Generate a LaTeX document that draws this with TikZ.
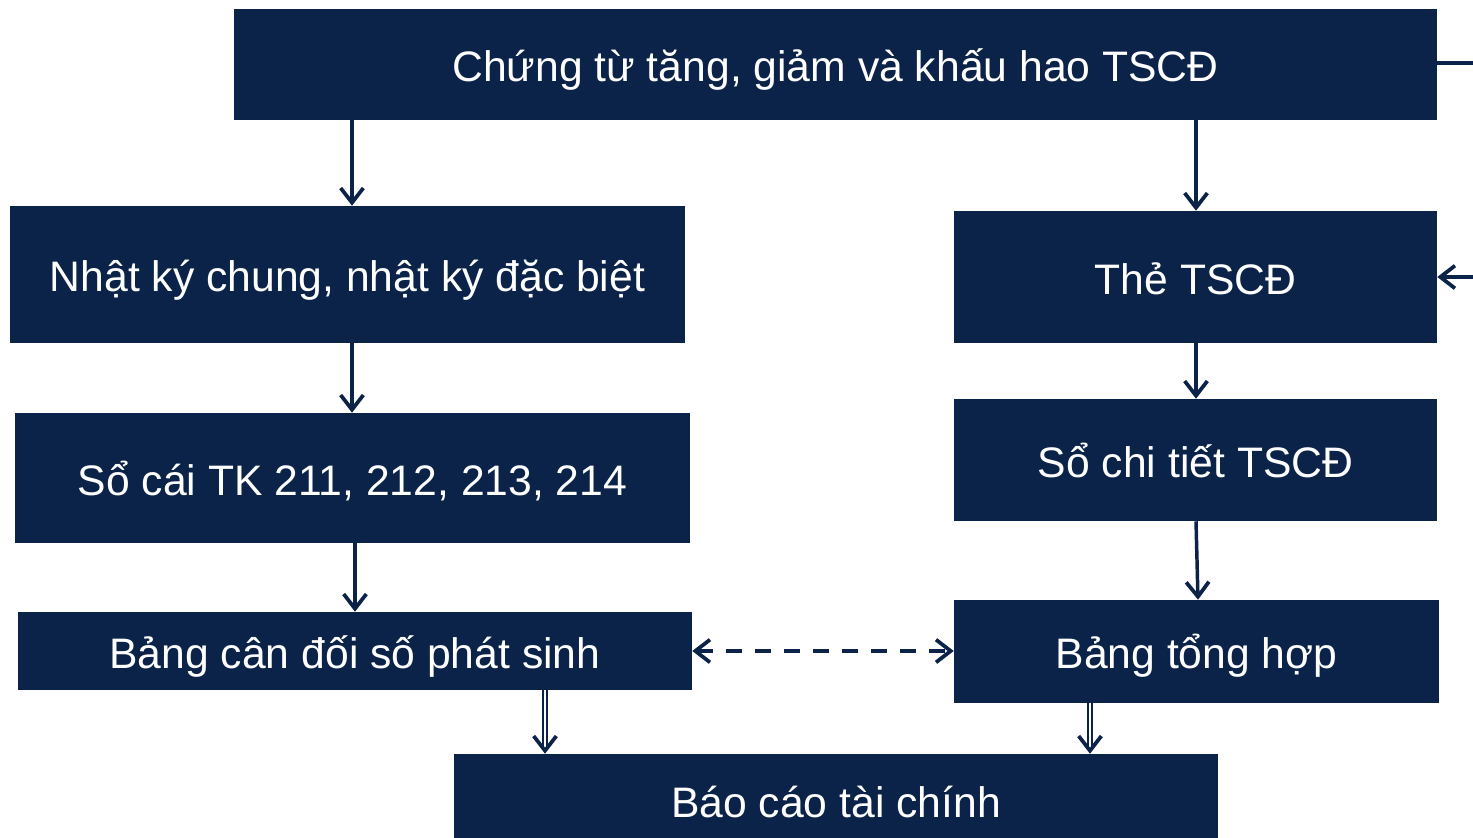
\documentclass[tikz,border=0pt]{standalone}
\usepackage{fontspec}
\setmainfont{Liberation Sans}
\usetikzlibrary{arrows.meta,calc}
\definecolor{navy}{RGB}{11,35,72}
\tikzset{
  box/.style={fill=navy, draw=none, text=white, inner sep=0pt, text height=27pt, text depth=1pt, font=\fontsize{32}{38}\selectfont},
  conn/.style={draw=navy, line width=2.6pt, -{Straight Barb[length=11pt,width=17pt,line width=2.8pt]}},
  plain/.style={draw=navy, line width=2.6pt},
  dbl/.style={draw=navy, line width=1.6pt, double=white, double distance=1.6pt, -{Straight Barb[length=11pt,width=17pt,line width=2.8pt]}},
  dsh/.style={draw=navy, line width=2.6pt, dash pattern=on 12pt off 9.75pt, {Straight Barb[length=11pt,width=17pt,line width=2.8pt]}-{Straight Barb[length=11pt,width=17pt,line width=2.8pt]}}
}
\begin{document}
\begin{tikzpicture}[x=0.75pt,y=-0.75pt]
\useasboundingbox (0,0) rectangle (1473,838);
\node[box, minimum width=902.25pt, minimum height=83.25pt] (top) at (835.5,64.5) {Chứng từ tăng, giảm và khấu hao TSCĐ};
\node[box, minimum width=506.25pt, minimum height=102.75pt] (nk) at (347.5,274.5) {Nhật ký chung, nhật ký đặc biệt};
\node[box, minimum width=362.25pt, minimum height=99pt] (the) at (1195.5,277) {Thẻ TSCĐ};
\node[box, minimum width=506.25pt, minimum height=97.5pt] (sc) at (352.5,478) {Sổ cái TK 211, 212, 213, 214};
\node[box, minimum width=362.25pt, minimum height=91.5pt] (sct) at (1195.5,460) {Sổ chi tiết TSCĐ};
\node[box, minimum width=505.5pt, minimum height=58.5pt] (bcd) at (355,651) {Bảng cân đối số phát sinh};
\node[box, minimum width=363.75pt, minimum height=77.25pt] (bth) at (1196.5,651.5) {Bảng tổng hợp};
\node[box, minimum width=573pt, minimum height=69pt] (bc) at (836,800) {Báo cáo tài chính};
\coordinate (outA) at (1473,63);
\coordinate (outB) at (1473,277);
\draw[conn] (top.south -| 352,0) -- (nk.north -| 352,0);
\draw[conn] (top.south -| 1196,0) -- (the.north -| 1196,0);
\draw[conn] (nk.south -| 352,0) -- (sc.north -| 352,0);
\draw[conn] (the.south -| 1196,0) -- (sct.north -| 1196,0);
\draw[conn] (sc.south -| 355,0) -- (bcd.north -| 355,0);
\draw[conn] (sct.south -| 1196,0) -- (bth.north -| 1198,0);
\draw[dsh] (bcd.east) -- (bth.west |- bcd.east);
\draw[dbl] (bcd.south -| 545,0) -- (bc.north -| 545,0);
\draw[dbl] (bth.south -| 1090,0) -- (bc.north -| 1090,0);
\draw[plain] (top.east |- outA) -- (outA);
\draw[conn] (outB) -- (the.east |- outB);
\end{tikzpicture}
\end{document}
